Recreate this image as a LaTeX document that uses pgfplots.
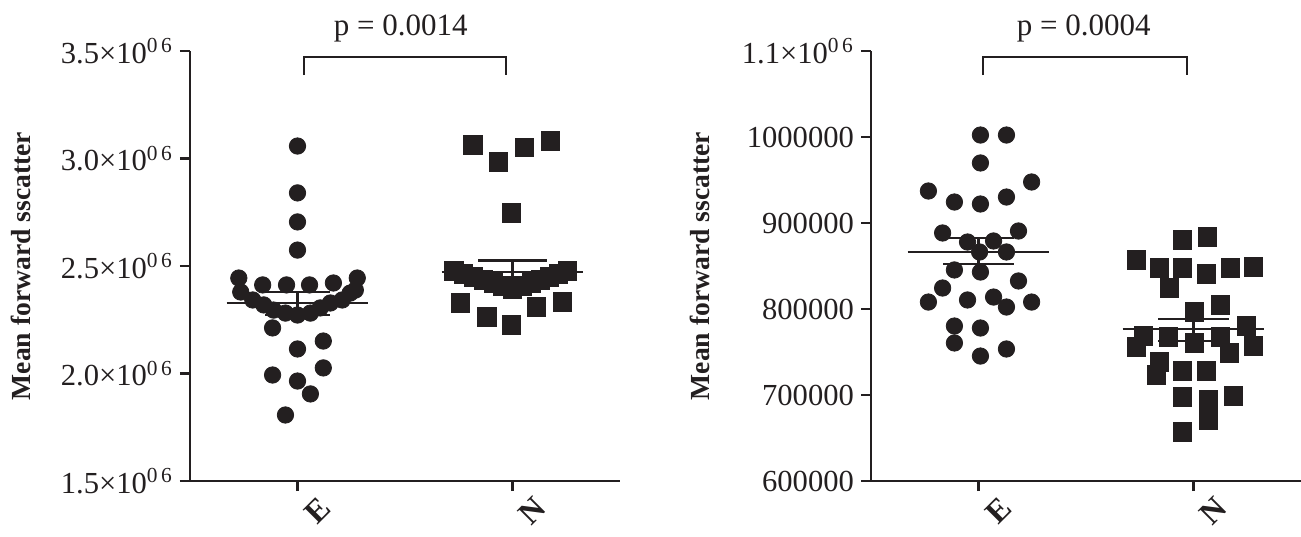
\documentclass[border=0pt]{standalone}
\usepackage{fontspec}
\setmainfont{Liberation Serif}
\usepackage{pgfplots}
\usepackage{pgfplotstable}
\pgfplotsset{compat=1.18}
\definecolor{ink}{RGB}{35,31,32}

\pgfplotstableread{
x y
0.00 3058000
0.00 2840000
0.00 2705000
0.00 2574000
-0.273 2444000
-0.162 2412000
-0.051 2412000
0.056 2412000
0.167 2421000
0.278 2444000
-0.264 2379000
0.269 2388000
-0.208 2342000
-0.157 2319000
-0.111 2295000
-0.056 2281000
0.00 2272000
0.060 2281000
0.106 2305000
0.153 2328000
0.208 2342000
0.245 2374000
-0.116 2212000
0.120 2151000
0.00 2114000
-0.116 1993000
0.120 2026000
0.00 1965000
0.060 1905000
-0.056 1807000
}\leftE

\pgfplotstableread{
x y
0.815 3063000
0.935 2984000
1.056 3053000
1.176 3081000
0.995 2747000
0.727 2477000
0.773 2463000
0.819 2449000
0.866 2435000
0.912 2421000
0.954 2407000
1.000 2393000
1.046 2407000
1.088 2421000
1.130 2435000
1.171 2449000
1.213 2463000
1.255 2477000
0.759 2328000
0.880 2263000
0.995 2226000
1.111 2309000
1.231 2333000
}\leftN

\pgfplotstableread{
x y
0.009 1002300
0.130 1002300
0.009 969800
0.247 947700
-0.233 937200
-0.112 924400
0.009 922100
0.130 930200
-0.167 888400
0.186 890700
-0.051 877900
0.070 879100
0.005 866300
0.130 866300
-0.112 845400
0.009 843000
0.186 832600
-0.167 824400
-0.233 808100
-0.051 810500
0.070 813900
0.130 802300
0.247 808100
-0.112 780200
0.009 777900
-0.112 760500
0.009 745300
0.130 753500
}\rightE

\pgfplotstableread{
x y
0.949 880200
1.065 883700
0.735 857000
0.842 847700
0.949 847700
1.060 840700
1.172 847700
1.279 848800
0.888 824400
1.005 796500
1.126 804600
1.247 780200
0.767 768600
0.884 767400
1.005 760500
1.126 767400
0.735 755800
1.167 748800
1.279 756900
0.842 738400
0.828 723300
0.949 727900
1.060 727900
0.949 697700
1.070 694200
1.186 698800
1.070 670900
0.949 657000
}\rightN

\pgfplotsset{
 myax/.style={
  scale only axis, width=215pt, height=215pt, anchor=south west,
  xmin=-0.5, xmax=1.5, xtick={0,1}, xticklabels={E,N},
  scaled y ticks=false,
  axis x line*=bottom, axis y line*=left,
  axis line style={-, line width=1.3pt, color=ink},
  x axis line style={shorten <=-5pt},
  major tick length=5pt, tick align=outside,
  tick style={line width=1.3pt, color=ink},
  ticklabel style={font=\fontsize{15.3}{18}\selectfont, text=ink},
  xticklabel style={rotate=45, anchor=center, font=\bfseries\fontsize{16}{18}\selectfont, yshift=-14pt},
  ylabel={Mean forward sscatter},
  ylabel style={font=\bfseries\fontsize{13.8}{16}\selectfont, text=ink, anchor=center},
  clip=false,
 },
 pe/.style={only marks, mark=*, mark size=4.1pt, color=ink, mark options={line width=0.4pt}},
 pn/.style={only marks, mark=square*, mark size=4.6pt, color=ink, mark options={line width=0.4pt}},
 ln/.style={ink, line width=1.2pt, no marks},
}

\begin{document}
\begin{tikzpicture}
\path[use as bounding box] (0,0) rectangle (650.5pt,268pt);
\begin{axis}[myax, at={(95pt,27.5pt)},
  ymin=1500000, ymax=3500000,
  ytick={1500000,2000000,2500000,3000000,3500000},
  yticklabels={1.5×10\textsuperscript{0\,6},2.0×10\textsuperscript{0\,6},2.5×10\textsuperscript{0\,6},3.0×10\textsuperscript{0\,6},3.5×10\textsuperscript{0\,6}},
  ylabel style={at={(axis description cs:-0.393,0.5)}},
]
\addplot[pe] table[x=x,y=y] {\leftE};
\addplot[pn] table[x=x,y=y] {\leftN};
\addplot[ln] coordinates {(-0.33,2328000) (0.33,2328000)};
\addplot[ln] coordinates {(0,2272000) (0,2379000)};
\addplot[ln] coordinates {(-0.15,2379000) (0.15,2379000)};
\addplot[ln] coordinates {(-0.15,2272000) (0.15,2272000)};
\addplot[ln] coordinates {(0.67,2472000) (1.33,2472000)};
\addplot[ln] coordinates {(1,2420000) (1,2525000)};
\addplot[ln] coordinates {(0.84,2525000) (1.16,2525000)};
\addplot[ln] coordinates {(0.84,2420000) (1.16,2420000)};
\addplot[ink, line width=1pt, no marks] coordinates {(0.03,3388000) (0.03,3472000) (0.97,3472000) (0.97,3388000)};
\node[anchor=base, font=\fontsize{15.5}{18}\selectfont, text=ink] at (axis cs:0.48,3574000) {p = 0.0014};
\end{axis}
\begin{axis}[myax, at={(435.5pt,27.5pt)},
  ymin=600000, ymax=1100000,
  ytick={600000,700000,800000,900000,1000000,1100000},
  yticklabels={600000,700000,800000,900000,1000000,1.1×10\textsuperscript{0\,6}},
  ylabel style={at={(axis description cs:-0.398,0.5)}},
]
\addplot[pe] table[x=x,y=y] {\rightE};
\addplot[pn] table[x=x,y=y] {\rightN};
\addplot[ln] coordinates {(-0.33,866300) (0.33,866300)};
\addplot[ln] coordinates {(0,852300) (0,882600)};
\addplot[ln] coordinates {(-0.165,882600) (0.165,882600)};
\addplot[ln] coordinates {(-0.165,852300) (0.165,852300)};
\addplot[ln] coordinates {(0.67,776700) (1.33,776700)};
\addplot[ln] coordinates {(1,762800) (1,788400)};
\addplot[ln] coordinates {(0.835,788400) (1.165,788400)};
\addplot[ln] coordinates {(0.835,762800) (1.165,762800)};
\addplot[ink, line width=1pt, no marks] coordinates {(0.023,1072000) (0.023,1093000) (0.972,1093000) (0.972,1072000)};
\node[anchor=base, font=\fontsize{15.5}{18}\selectfont, text=ink] at (axis cs:0.49,1118600) {p = 0.0004};
\end{axis}
\end{tikzpicture}
\end{document}
